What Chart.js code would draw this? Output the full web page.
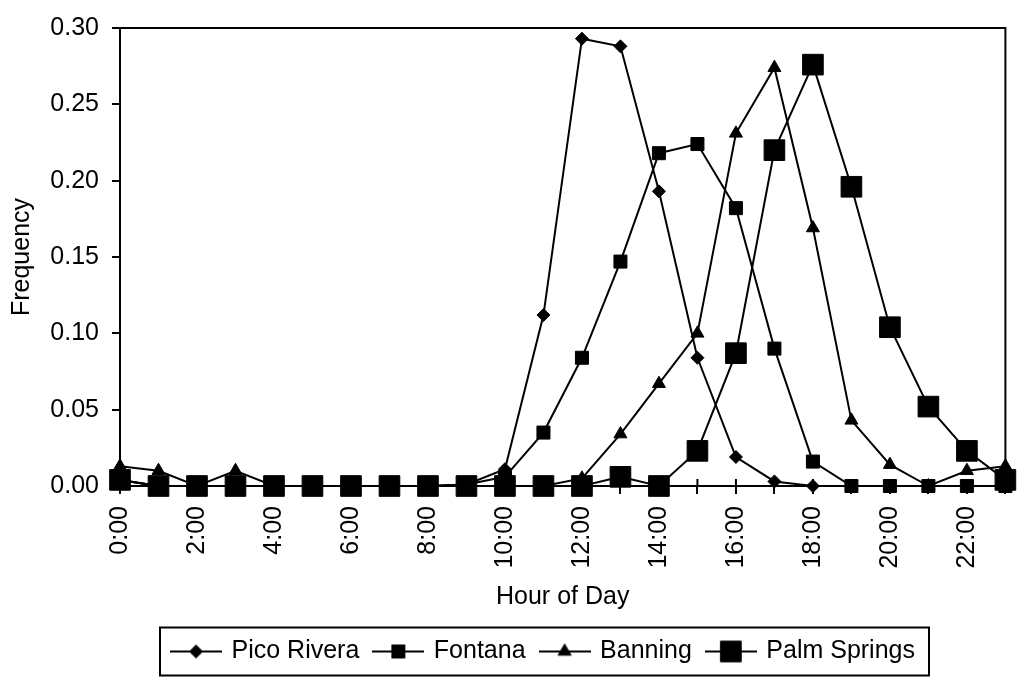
<!DOCTYPE html>
<html>
<head>
<meta charset="utf-8">
<title>Hour of Day Frequency</title>
<script src="https://cdn.jsdelivr.net/npm/chart.js@4/dist/chart.umd.min.js"></script>
<style>
  html, body { margin: 0; padding: 0; background: #ffffff; }
  #wrap { width: 1021px; height: 677px; }
</style>
</head>
<body>
<div id="wrap"><canvas id="chart" width="1021" height="677"></canvas></div>
<script>
// Hour-of-day categories
const hours = ['0:00','1:00','2:00','3:00','4:00','5:00','6:00','7:00','8:00','9:00','10:00','11:00',
               '12:00','13:00','14:00','15:00','16:00','17:00','18:00','19:00','20:00','21:00','22:00','23:00'];

// Frequency by hour for each site
const picoRivera  = [0.004,0,0,0,0,0,0,0,0,0.001,0.011,0.112,0.293,0.288,0.193,0.084,0.019,0.003,0,0,0,0,0,0];
const fontana     = [0.004,0,0,0,0,0,0,0,0,0.001,0.006,0.035,0.084,0.147,0.218,0.224,0.182,0.090,0.016,0,0,0,0,0];
const banning     = [0.013,0.010,0,0.010,0,0,0,0,0,0,0,0,0.005,0.034,0.067,0.100,0.231,0.274,0.169,0.043,0.014,0,0.010,0.013];
const palmSprings = [0.004,0,0,0,0,0,0,0,0,0,0,0,0,0.006,0,0.023,0.087,0.220,0.276,0.196,0.104,0.052,0.023,0.004];

const seriesNames = ['Pico Rivera', 'Fontana', 'Banning', 'Palm Springs'];

// Frequency axis range
const yMin = 0, yMax = 0.30, yStep = 0.05;

Chart.defaults.font.family = '"Liberation Sans", Arial, sans-serif';
Chart.defaults.font.size = 25;
Chart.defaults.color = '#000000';

// Marker style per series
const markers = {
  'Pico Rivera':  { style: 'rectRot',  radius: 6.5 },
  'Fontana':      { style: 'rect',     radius: 9.2 },
  'Banning':      { style: 'triangle', radius: 7.5 },
  'Palm Springs': { style: 'rect',     radius: 14.6 }
};

// Small "line through marker" key images for the legend
function makeKey(name) {
  const c = document.createElement('canvas');
  c.width = 52; c.height = 30;
  const g = c.getContext('2d');
  g.strokeStyle = '#000'; g.fillStyle = '#000'; g.lineWidth = 2;
  g.beginPath(); g.moveTo(0, 15); g.lineTo(52, 15); g.stroke();
  g.lineWidth = 1;
  Chart.helpers.drawPoint(g, { pointStyle: markers[name].style, radius: markers[name].radius, rotation: 0, borderWidth: 1 }, 26, 15);
  return c;
}

function makeSet(name, values) {
  return {
    label: name,
    data: values,
    borderColor: '#000',
    backgroundColor: '#000',
    borderWidth: 2,
    pointStyle: markers[name].style,
    pointRadius: markers[name].radius,
    pointHoverRadius: markers[name].radius,
    pointBackgroundColor: '#000',
    pointBorderColor: '#000',
    pointBorderWidth: 1,
    tension: 0,
    clip: false,
    key: makeKey(name)
  };
}

// Later series are painted over earlier ones, so list them last-first
const datasets = [
  makeSet('Palm Springs', palmSprings),
  makeSet('Banning', banning),
  makeSet('Fontana', fontana),
  makeSet('Pico Rivera', picoRivera)
];

const LEGEND_CENTER_X = 544;

const framePlugin = {
  id: 'frame',
  afterLayout(chart) {
    const lg = chart.legend;
    const dx = LEGEND_CENTER_X - (lg.left + lg.right) / 2;
    lg.left += dx; lg.right += dx;
  },
  beforeDatasetsDraw(chart) {
    const { ctx, chartArea: a, scales: { x } } = chart;
    ctx.save();
    ctx.strokeStyle = '#000';
    ctx.lineWidth = 2;
    ctx.strokeRect(a.left, a.top, a.right - a.left, a.bottom - a.top);
    // inner half of the crossing hour tick marks
    ctx.beginPath();
    x.ticks.forEach((t, i) => {
      const px = x.getPixelForTick(i);
      ctx.moveTo(px, a.bottom);
      ctx.lineTo(px, a.bottom - 7);
    });
    ctx.stroke();
    ctx.restore();
  },
  afterDraw(chart) {
    const hb = chart.legend.legendHitBoxes;
    if (!hb || !hb.length) return;
    const { ctx } = chart;
    const left = Math.min(...hb.map(h => h.left)) - 13;
    const right = Math.max(...hb.map(h => h.left + h.width)) + 14;
    const cy = hb[0].top + hb[0].height / 2;
    ctx.save();
    ctx.strokeStyle = '#000';
    ctx.lineWidth = 2;
    ctx.strokeRect(left, cy - 24, right - left, 48);
    ctx.restore();
  }
};

new Chart(document.getElementById('chart'), {
  type: 'line',
  data: { labels: hours, datasets },
  plugins: [framePlugin],
  options: {
    responsive: false,
    devicePixelRatio: 1,
    animation: false,
    events: [],
    layout: { padding: { top: 16, right: 9, bottom: 3, left: 0 } },
    plugins: {
      tooltip: { enabled: false },
      legend: {
        position: 'bottom',
        fullSize: false,
        reverse: true,
        labels: {
          usePointStyle: true,
          pointStyleWidth: 46,
          padding: 16,
          color: '#000',
          font: { size: 25 },
          generateLabels(chart) {
            const items = Chart.defaults.plugins.legend.labels.generateLabels(chart);
            items.forEach(it => { it.pointStyle = chart.data.datasets[it.datasetIndex].key; });
            return items;
          }
        }
      }
    },
    scales: {
      x: {
        type: 'category',
        offset: false,
        grid: { drawOnChartArea: false, color: '#000', lineWidth: 2, tickLength: 8 },
        border: { color: '#000', width: 2 },
        ticks: {
          autoSkip: false,
          maxRotation: 90,
          minRotation: 90,
          padding: 12,
          color: '#000',
          callback(value, index) { return index % 2 === 0 ? this.getLabelForValue(value) : ''; }
        },
        title: { display: true, text: 'Hour of Day', color: '#000', font: { size: 25 }, padding: { top: 0, bottom: 11 } },
        afterFit(scale) { scale.height = 137; scale.paddingLeft = 0; scale.paddingRight = 0; }
      },
      y: {
        min: yMin,
        max: yMax,
        grid: { drawOnChartArea: false, color: '#000', lineWidth: 2, tickLength: 8 },
        border: { color: '#000', width: 2 },
        ticks: {
          stepSize: yStep,
          padding: 13,
          color: '#000',
          callback(v) { return Number(v).toFixed(2); }
        },
        title: { display: true, text: 'Frequency', color: '#000', font: { size: 25 }, padding: { top: 7, bottom: 0 } },
        afterFit(scale) { scale.width = 120; }
      }
    }
  }
});
</script>
</body>
</html>
